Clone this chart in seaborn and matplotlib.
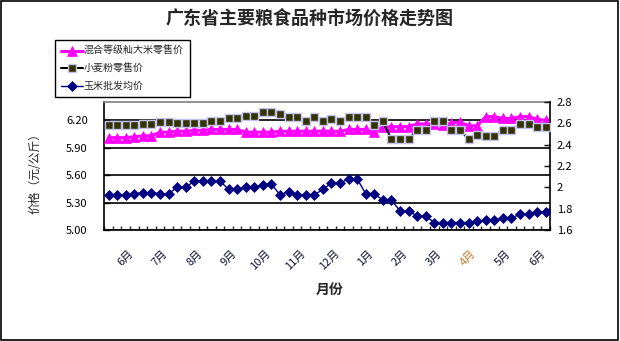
import numpy as np
import pandas as pd
import matplotlib
matplotlib.use("Agg")
import matplotlib.pyplot as plt
import seaborn as sns
from matplotlib.patches import Rectangle
from matplotlib.ticker import FormatStrFormatter, FuncFormatter

# ---------------- data ----------------
title = "广东省主要粮食品种市场价格走势图"
series_names = ["混合等级籼大米零售价", "小麦粉零售价", "玉米批发均价"]
months = ["6月", "7月", "8月", "9月", "10月", "11月", "12月",
          "1月", "2月", "3月", "4月", "5月", "6月"]

# 混合等级籼大米零售价 (left axis, 元/公斤)
rice = [6.01, 6.01, 6.01, 6.02, 6.03, 6.03, 6.07, 6.07, 6.08, 6.08,
        6.09, 6.09, 6.10, 6.10, 6.10, 6.10, 6.07, 6.07, 6.07, 6.07,
        6.08, 6.08, 6.08, 6.08, 6.08, 6.08, 6.08, 6.08, 6.10, 6.10,
        6.10, 6.07, 6.13, 6.13, 6.13, 6.13, 6.16, 6.16, 6.16, 6.15,
        6.17, 6.18, 6.14, 6.14, 6.24, 6.24, 6.22, 6.22, 6.24, 6.24,
        6.21, 6.20]

# 小麦粉零售价 (right axis)
wheat = [2.58, 2.58, 2.58, 2.58, 2.59, 2.59, 2.61, 2.61, 2.60, 2.60,
         2.60, 2.60, 2.62, 2.62, 2.65, 2.65, 2.67, 2.67, 2.71, 2.71,
         2.69, 2.66, 2.66, 2.62, 2.66, 2.62, 2.64, 2.62, 2.66, 2.66,
         2.66, 2.58, 2.62, 2.45, 2.45, 2.45, 2.54, 2.54, 2.62, 2.62,
         2.54, 2.54, 2.45, 2.49, 2.48, 2.48, 2.54, 2.54, 2.59, 2.59,
         2.57, 2.57]

# 玉米批发均价 (right axis)
corn = [1.93, 1.93, 1.93, 1.94, 1.95, 1.95, 1.94, 1.94, 2.00, 2.00,
        2.06, 2.06, 2.06, 2.06, 1.98, 1.98, 2.00, 2.00, 2.02, 2.03,
        1.93, 1.96, 1.93, 1.93, 1.93, 1.98, 2.04, 2.04, 2.08, 2.08,
        1.94, 1.94, 1.88, 1.88, 1.78, 1.78, 1.73, 1.73, 1.67, 1.67,
        1.67, 1.67, 1.67, 1.68, 1.69, 1.69, 1.71, 1.71, 1.75, 1.75,
        1.77, 1.77]

left_ticks = [5.00, 5.30, 5.60, 5.90, 6.20]
right_ticks = [1.6, 1.8, 2.0, 2.2, 2.4, 2.6, 2.8]

df = pd.DataFrame({"week": np.arange(len(rice)), "rice": rice,
                   "wheat": wheat, "corn": corn})

# ---------------- style ----------------
sns.set_style("white")
plt.rcParams["font.family"] = ["Noto Sans CJK SC", "DejaVu Sans"]
plt.rcParams["axes.unicode_minus"] = False

W, H = 620, 341
fig = plt.figure(figsize=(W / 100, H / 100), dpi=100)
fig.patch.set_facecolor("white")

x0, x1, ytop, ybot = 104.3, 550.0, 102.0, 230.0
ax = fig.add_axes([x0 / W, 1 - ybot / H, (x1 - x0) / W, (ybot - ytop) / H])
ax2 = ax.twinx()

sns.lineplot(data=df, x="week", y="rice", ax=ax, color="#FF00FF", lw=2.2,
             marker="^", ms=6.5, mec="#FF00FF", mew=0.5, zorder=3)
sns.lineplot(data=df, x="week", y="wheat", ax=ax2, color="black", lw=1.5,
             marker="s", ms=6, mfc="#333300", mec="#C4C4F0", mew=1, zorder=3)
sns.lineplot(data=df, x="week", y="corn", ax=ax2, color="#000080", lw=1.0,
             marker="D", ms=5, mfc="#000080", mec="#000080", mew=0.5, zorder=4)

# axes ranges
ax.set_xlim(-0.5, len(rice) - 0.5)
ax.set_ylim(5.0, 6.4)
ax2.set_ylim(1.6, 2.8)
ax.set_xlabel("")
ax.set_ylabel("")
ax2.set_ylabel("")
ax2.set_xlabel("")

# y ticks
ax.set_yticks(left_ticks)
ax.yaxis.set_major_formatter(FormatStrFormatter("%.2f"))
ax2.set_yticks(right_ticks)
ax2.yaxis.set_major_formatter(FuncFormatter(lambda v, p: "%g" % round(v, 2)))
ax.tick_params(axis="y", which="major", direction="in", length=4, width=1,
               labelsize=8, pad=12, colors="black", left=True)
ax2.tick_params(axis="y", which="major", direction="in", length=4, width=1,
                labelsize=8, pad=5, colors="black", right=True)

# x ticks: minor ticks between categories, labels every 4 weeks
ax.set_xticks(np.arange(-0.5, len(rice), 1), minor=True)
ax.set_xticks(np.arange(len(months)) * 4 + 2.3)
ax.set_xticklabels(months, rotation=45, ha="right", va="top",
                   rotation_mode="anchor", fontsize=8)
ax.tick_params(axis="x", which="major", length=0, pad=13)
ax.tick_params(axis="x", which="minor", direction="in", length=3, width=1,
               bottom=True)
for lab in ax.get_xticklabels():
    lab.set_color("#C07828" if lab.get_text() == "4月" else "#101030")

# grid
ax.grid(axis="y", color="black", lw=1.2)
ax.grid(axis="x", visible=False)
ax2.grid(False)
ax.set_axisbelow(True)

# spines
for s in ["left", "bottom"]:
    ax.spines[s].set_color("black")
    ax.spines[s].set_linewidth(1.2)
ax.spines["top"].set_color("#808080")
ax.spines["top"].set_linewidth(1.2)
ax.spines["right"].set_visible(False)
for s in ["left", "bottom", "top"]:
    ax2.spines[s].set_visible(False)
ax2.spines["right"].set_color("black")
ax2.spines["right"].set_linewidth(1.2)

# texts
fig.text(310 / W, 1 - 18 / H, title, ha="center", va="center",
         fontsize=13, fontweight="bold")
fig.text(35 / W, 1 - 171 / H, "价格（元/公斤）", rotation=90,
         ha="center", va="center", fontsize=8.5)
fig.text(330 / W, 1 - 290 / H, "月份", ha="center", va="center",
         fontsize=10, fontweight="bold")

# legend
handles = [ax.lines[0], ax2.lines[0], ax2.lines[1]]
leg = fig.legend(handles, series_names, loc="upper left",
                 bbox_to_anchor=(55 / W, 1 - 40 / H), fontsize=7.2,
                 frameon=True, fancybox=False, edgecolor="black",
                 framealpha=1, borderpad=0.6, handlelength=2.2,
                 handletextpad=0.1, labelspacing=0.75, borderaxespad=0)
leg.get_frame().set_linewidth(1.0)

# outer border
fig.add_artist(Rectangle((0.0015, 0.002), 0.996, 0.995,
                         transform=fig.transFigure, fill=False,
                         edgecolor="black", lw=1.2))

fig.savefig("out.png", dpi=100)
